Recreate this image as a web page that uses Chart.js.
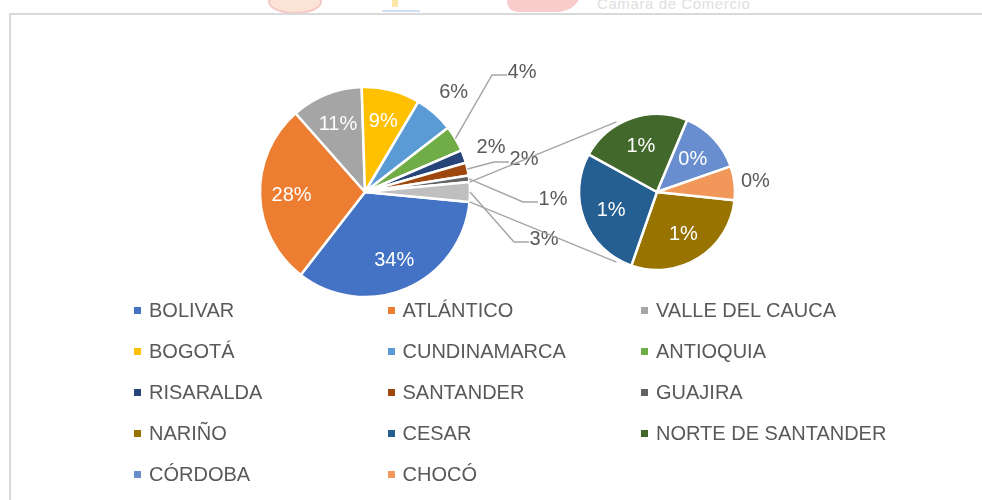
<!DOCTYPE html>
<html>
<head>
<meta charset="utf-8">
<script src="https://cdn.jsdelivr.net/npm/chart.js@4.4.1/dist/chart.umd.min.js"></script>
<style>
    html, body { margin: 0; padding: 0; background: #fff; overflow: hidden; }
    body { width: 982px; height: 500px; position: relative; overflow: hidden; font-family: "Liberation Sans", Arial, sans-serif; }
    #frame { position: absolute; left: 9px; top: 13px; width: 2000px; height: 2000px; border-left: 2px solid #d9d9d9; border-top: 2px solid #d9d9d9; }
    .logo { position: absolute; }
    #camara { position: absolute; left: 597px; top: -5px; font-size: 15px; color: #e0e0e0; letter-spacing: 0.6px; }
    canvas { position: absolute; left: 0; top: 0; }
    #legend { position: absolute; left: 134px; top: 290px; display: grid; grid-template-columns: repeat(3, 253.5px); grid-auto-rows: 41px; }
    .item { display: flex; align-items: center; font-size: 20px; color: #595959; white-space: nowrap; }
    .item span.box { width: 7px; height: 7px; margin-right: 8px; flex: none; }
</style>
</head>
<body>
<div class="logo" style="left:268px;top:-10px;width:50px;height:20px;border-radius:50%;background:#fbe3d6;border:2px solid #f6c7c7;"></div>
<div class="logo" style="left:392px;top:0px;width:6px;height:7px;background:#fbe6a8;"></div>
<div class="logo" style="left:382px;top:10px;width:38px;height:2px;background:#cfe1f2;"></div>
<div class="logo" style="left:507px;top:-14px;width:76px;height:26px;border-radius:0 0 30px 12px;background:#f9cccc;"></div>
<div id="camara">Cámara de Comercio</div>
<div id="frame"></div>
<canvas id="mainPie" width="982" height="500"></canvas>
<canvas id="subPie" width="982" height="500"></canvas>
<div id="legend"></div>
<script>
const mainLabels = ['BOLIVAR', 'ATLÁNTICO', 'VALLE DEL CAUCA', 'BOGOTÁ', 'CUNDINAMARCA', 'ANTIOQUIA', 'RISARALDA', 'SANTANDER', 'GUAJIRA'];
const mainValues = [34, 28, 11, 9, 6, 4, 2, 2, 1];
const subLabels = ['NARIÑO', 'CESAR', 'NORTE DE SANTANDER', 'CÓRDOBA', 'CHOCÓ'];
const subValues = [0.86, 0.83, 0.70, 0.40, 0.21];

const mainColors = ['#4472c4', '#ed7d31', '#a5a5a5', '#ffc000', '#5b9bd5', '#70ad47', '#264478', '#9e480e', '#636363'];
const subColors = ['#997300', '#255e91', '#43682b', '#698ed0', '#f1975a'];
const otherColor = '#bfbfbf';

const W = 982, H = 500;
const labelFont = '20px "Liberation Sans", Arial, sans-serif';
const lineColor = '#a6a6a6';
const textGray = '#595959';

const otherValue = subValues.reduce((a, b) => a + b, 0);
const mainTotal = mainValues.reduce((a, b) => a + b, 0) + otherValue;

// where each pie sits and how big it is
function padFor(cx, cy) {
    const s = 110;
    return { left: cx - s, right: W - (cx + s), top: cy - s, bottom: H - (cy + s) };
}

// label placement: in = inside, out = just outside, lead = with leader line
const mainPlacement = ['in', 'in', 'in', 'in', 'out', 'lead', 'out', 'lead', 'lead', 'lead'];
const mainSpots = { 5: [157, -121], 7: [159, -34], 8: [188, 6], 9: [179, 46] };
const subPlacement = ['in', 'in', 'in', 'in', 'out'];

const pctLabels = {
    id: 'pctLabels',
    afterDatasetsDraw(chart, args, opts) {
        const ctx = chart.ctx;
        const arcs = chart.getDatasetMeta(0).data;
        const values = chart.data.datasets[0].data;
        ctx.save();
        ctx.font = labelFont;
        ctx.textAlign = 'center';
        ctx.textBaseline = 'middle';
        arcs.forEach((arc, i) => {
            const p = arc.getProps(['x', 'y', 'startAngle', 'endAngle', 'outerRadius'], true);
            const mid = (p.startAngle + p.endAngle) / 2;
            const text = Math.round(values[i] / mainTotal * 100) + '%';
            const mode = opts.placement[i];
            let lx, ly, color = textGray;
            if (mode === 'in') {
                lx = p.x + Math.cos(mid) * p.outerRadius * opts.inside;
                ly = p.y + Math.sin(mid) * p.outerRadius * opts.inside;
                color = '#ffffff';
            } else if (mode === 'out') {
                lx = p.x + Math.cos(mid) * (p.outerRadius + opts.outside);
                ly = p.y + Math.sin(mid) * (p.outerRadius + opts.outside);
            } else {
                const spot = opts.spots[i];
                lx = p.x + spot[0];
                ly = p.y + spot[1];
                ctx.strokeStyle = lineColor;
                ctx.lineWidth = 1.5;
                ctx.beginPath();
                ctx.moveTo(p.x + Math.cos(mid) * p.outerRadius, p.y + Math.sin(mid) * p.outerRadius);
                ctx.lineTo(lx - 30, ly + 4);
                ctx.lineTo(lx - 15, ly + 4);
                ctx.stroke();
            }
            ctx.fillStyle = color;
            ctx.fillText(text, lx, ly + 1);
        });
        ctx.restore();
    }
};

const mainChart = new Chart(document.getElementById('mainPie'), {
    type: 'pie',
    data: {
        labels: mainLabels.concat(['Otros']),
        datasets: [{
            data: mainValues.concat([otherValue]),
            backgroundColor: mainColors.concat([otherColor]),
            borderColor: '#ffffff',
            borderWidth: 2.5
        }]
    },
    options: {
        responsive: false,
        animation: false,
        radius: 105,
        // split slice centred on 3 o'clock, like Excel's pie of pie
        rotation: 90 + otherValue / mainTotal * 180,
        layout: { padding: padFor(365, 192) },
        plugins: {
            legend: { display: false },
            tooltip: { enabled: false },
            pctLabels: { placement: mainPlacement, spots: mainSpots, inside: 0.7, outside: 29 }
        }
    },
    plugins: [pctLabels]
});

const connectors = {
    id: 'connectors',
    afterDatasetsDraw(chart) {
        const ctx = chart.ctx;
        const mainArcs = mainChart.getDatasetMeta(0).data;
        const o = mainArcs[mainArcs.length - 1].getProps(['x', 'y', 'startAngle', 'endAngle', 'outerRadius'], true);
        const s = chart.getDatasetMeta(0).data[0].getProps(['x', 'y', 'outerRadius'], true);
        const sr = s.outerRadius + 3;
        const upA = 240 * Math.PI / 180, lowA = 120 * Math.PI / 180;
        ctx.save();
        ctx.strokeStyle = lineColor;
        ctx.lineWidth = 1.5;
        ctx.beginPath();
        ctx.moveTo(o.x + Math.cos(o.startAngle) * o.outerRadius, o.y + Math.sin(o.startAngle) * o.outerRadius);
        ctx.lineTo(s.x + Math.cos(upA) * sr, s.y + Math.sin(upA) * sr);
        ctx.moveTo(o.x + Math.cos(o.endAngle) * o.outerRadius, o.y + Math.sin(o.endAngle) * o.outerRadius);
        ctx.lineTo(s.x + Math.cos(lowA) * sr, s.y + Math.sin(lowA) * sr);
        ctx.stroke();
        ctx.restore();
    }
};

new Chart(document.getElementById('subPie'), {
    type: 'pie',
    data: {
        labels: subLabels,
        datasets: [{
            data: subValues,
            backgroundColor: subColors,
            borderColor: '#ffffff',
            borderWidth: 2.5
        }]
    },
    options: {
        responsive: false,
        animation: false,
        radius: 78,
        rotation: 96,
        layout: { padding: padFor(657, 192) },
        plugins: {
            legend: { display: false },
            tooltip: { enabled: false },
            pctLabels: { placement: subPlacement, spots: {}, inside: 0.63, outside: 21 }
        }
    },
    plugins: [pctLabels, connectors]
});

// legend, same order as the workbook
const legend = document.getElementById('legend');
mainLabels.concat(subLabels).forEach((name, i) => {
    const color = mainColors.concat(subColors)[i];
    const item = document.createElement('div');
    item.className = 'item';
    item.innerHTML = '<span class="box" style="background:' + color + '"></span>' + name;
    legend.appendChild(item);
});
</script>
</body>
</html>
